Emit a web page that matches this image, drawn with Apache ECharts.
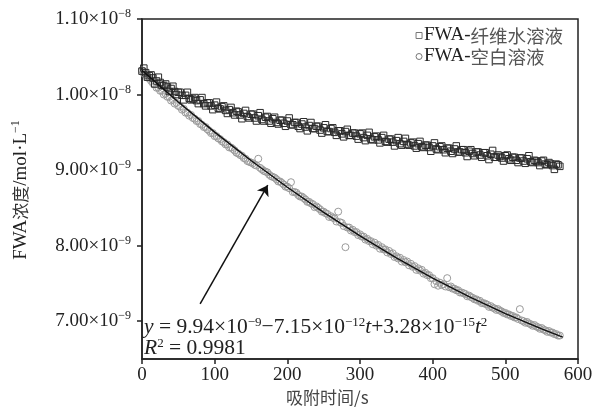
<!DOCTYPE html>
<html><head><meta charset="utf-8">
<script src="https://cdn.jsdelivr.net/npm/echarts@6/dist/echarts.min.js"></script>
<style>html,body{margin:0;padding:0;background:#fff}#c{width:596px;height:414px}</style>
</head><body><div id="c"></div>
<script>
// concentration values in units of 1e-9 mol/L; times in s
const timesA = [];
for (let i = 0; i <= 115; i++) timesA.push(i * 5);
const timesB = [];
for (let i = 0; i <= 114; i++) timesB.push(i * 5 + 2.5);
const fiberA = [10.31,10.29,10.25,10.22,10.18,10.16,10.12,10.10,10.08,10.04,10.03,9.99,9.99,9.95,9.94,9.92,9.93,9.88,9.89,9.85,
9.86,9.82,9.84,9.79,9.80,9.76,9.78,9.73,9.75,9.71,9.74,9.69,9.72,9.67,9.70,9.65,9.68,9.63,9.66,9.62,
9.65,9.60,9.63,9.58,9.61,9.57,9.59,9.55,9.58,9.53,9.56,9.51,9.55,9.50,9.52,9.48,9.51,9.46,9.49,9.45,
9.48,9.43,9.46,9.41,9.44,9.40,9.43,9.38,9.41,9.37,9.39,9.35,9.38,9.34,9.36,9.32,9.35,9.31,9.33,9.30,
9.32,9.28,9.31,9.27,9.29,9.25,9.28,9.24,9.27,9.23,9.25,9.22,9.24,9.20,9.23,9.19,9.21,9.17,9.20,9.16,
9.19,9.15,9.17,9.13,9.16,9.12,9.15,9.11,9.13,9.10,9.12,9.08,9.10,9.06,9.08,9.05];
const fiberB = [10.35,10.23,10.26,10.14,10.23,10.12,10.14,10.04,10.11,10.00,10.03,9.93,10.03,9.93,9.96,9.88,9.96,9.85,9.89,9.80,
9.90,9.81,9.85,9.75,9.83,9.73,9.77,9.68,9.79,9.69,9.74,9.65,9.76,9.65,9.71,9.62,9.70,9.61,9.66,9.58,
9.69,9.60,9.63,9.55,9.64,9.52,9.63,9.55,9.58,9.49,9.60,9.51,9.56,9.46,9.52,9.44,9.54,9.46,9.49,9.41,
9.49,9.39,9.50,9.40,9.45,9.36,9.46,9.37,9.41,9.32,9.43,9.33,9.42,9.33,9.37,9.29,9.38,9.30,9.33,9.25,
9.36,9.27,9.32,9.23,9.29,9.22,9.32,9.24,9.27,9.18,9.27,9.19,9.24,9.17,9.23,9.14,9.26,9.17,9.18,9.12,
9.20,9.13,9.17,9.10,9.16,9.09,9.19,9.10,9.12,9.06,9.13,9.07,9.08,9.01,9.07];
const blankA = [10.32,10.26,10.21,10.15,10.09,10.05,10.00,9.97,9.92,9.88,9.85,9.80,9.76,9.72,9.69,9.65,9.61,9.57,9.54,9.49,
9.45,9.42,9.38,9.34,9.30,9.28,9.23,9.20,9.16,9.12,9.10,9.07,9.15,9.01,8.98,8.94,8.91,8.88,8.85,8.81,
8.78,8.84,8.71,8.67,8.65,8.61,8.58,8.55,8.52,8.48,8.45,8.42,8.39,8.36,8.45,8.30,7.98,8.24,8.21,8.18,
8.15,8.12,8.09,8.06,8.04,8.01,7.98,7.95,7.93,7.90,7.86,7.84,7.81,7.79,7.76,7.73,7.70,7.68,7.64,7.61,
7.57,7.53,7.51,7.49,7.57,7.46,7.43,7.41,7.38,7.36,7.34,7.31,7.29,7.27,7.24,7.22,7.20,7.17,7.16,7.13,
7.11,7.09,7.07,7.05,7.16,7.00,6.99,6.96,6.95,6.92,6.91,6.88,6.87,6.85,6.83,6.81];
const blankB = [10.28,10.23,10.18,10.14,10.09,10.05,10.01,9.97,9.93,9.89,9.84,9.81,9.76,9.73,9.68,9.65,9.60,9.57,9.52,9.49,
9.45,9.41,9.37,9.34,9.30,9.26,9.22,9.19,9.15,9.11,9.09,9.06,9.03,8.99,8.97,8.92,8.90,8.85,8.83,8.78,
8.76,8.71,8.70,8.65,8.63,8.58,8.56,8.51,8.50,8.45,8.43,8.38,8.37,8.32,8.31,8.26,8.24,8.20,8.18,8.14,
8.12,8.08,8.06,8.02,8.00,7.96,7.95,7.91,7.89,7.85,7.83,7.79,7.78,7.74,7.72,7.68,7.67,7.63,7.61,7.57,
7.49,7.47,7.48,7.46,7.45,7.43,7.41,7.38,7.37,7.33,7.32,7.29,7.27,7.24,7.23,7.19,7.18,7.15,7.14,7.11,
7.09,7.07,7.05,7.03,7.01,6.98,6.97,6.94,6.93,6.90,6.89,6.86,6.85,6.83,6.81];
const fitT = [0,50,100,150,200,250,300,350,400,450,500,550,579];
const fitV = [10.32,9.901,9.503,9.127,8.773,8.44,8.129,7.839,7.571,7.325,7.101,6.898,6.79];
const arrowT = [80,173];
const arrowV = [7.23,8.80];
const yTicks = [7,8,9,10,11];

const serif = '"Liberation Serif","DejaVu Serif",serif';
const cjk = '"Noto Sans CJK SC","Noto Sans",sans-serif';
const chart = echarts.init(document.getElementById('c'));
function yfmt(v){ return v >= 10 ? '{n|'+(v/10).toFixed(2)+'×10}{s|−8}' : '{n|'+v.toFixed(2)+'×10}{s|−9}'; }
function pts(ts, vs){ return ts.map((t,i)=>[t,vs[i]]); }
const supRich = {
  n:{fontFamily:serif,fontSize:19,color:'#222',lineHeight:22},
  s:{fontFamily:serif,fontSize:12,color:'#222',verticalAlign:'top',lineHeight:14}
};
const fRich = {
  i:{fontFamily:serif,fontStyle:'italic',fontSize:21.5,fill:'#222',lineHeight:22},
  n:{fontFamily:serif,fontSize:21.5,fill:'#222',lineHeight:22},
  s:{fontFamily:serif,fontSize:13,fill:'#222',verticalAlign:'top',lineHeight:14}
};
chart.setOption({
  animation:false,
  backgroundColor:'#fff',
  grid:{left:142,right:18,top:19,bottom:55,show:true,borderColor:'#222',borderWidth:1.5,backgroundColor:'transparent'},
  legend:{
    right:28, top:21, orient:'vertical', itemWidth:6, itemHeight:6, itemGap:2,
    data:[{name:'FWA-纤维水溶液',icon:'rect'},{name:'FWA-空白溶液',icon:'circle'}],
    formatter:function(n){ const p=n.split('-'); return '{a|'+p[0]+'-}{b|'+p[1]+'}'; },
    textStyle:{padding:[0,0,0,-3],rich:{a:{fontFamily:serif,fontSize:19,color:'#222',lineHeight:21},b:{fontFamily:cjk,fontSize:18.5,color:'#555',lineHeight:21}}},
    itemStyle:{color:'#fff',borderColor:'#777',borderWidth:1}
  },
  xAxis:{type:'value',min:0,max:600,interval:100,
    axisLine:{onZero:false,lineStyle:{color:'#222',width:1.5}},
    axisTick:{inside:false,length:5,lineStyle:{color:'#222',width:1.5}},
    splitLine:{show:false},
    axisLabel:{fontFamily:serif,fontSize:19,color:'#222',margin:7}
  },
  yAxis:{type:'value',min:6.5,max:11,
    axisLine:{onZero:false,lineStyle:{color:'#222',width:1.5}},
    axisTick:{length:5,customValues:yTicks,lineStyle:{color:'#222',width:1.5}},
    splitLine:{show:false},
    axisLabel:{customValues:yTicks,formatter:yfmt,margin:11,rich:supRich}
  },
  series:[
    {name:'FWA-纤维水溶液',type:'scatter',symbol:'rect',symbolSize:6.5,
      data:pts(timesA,fiberA).concat(pts(timesB,fiberB)),
      itemStyle:{color:'rgba(0,0,0,0)',borderColor:'#2a2a2a',borderWidth:1,opacity:1},z:3},
    {name:'FWA-空白溶液',type:'scatter',symbol:'circle',symbolSize:7,
      data:pts(timesA,blankA).concat(pts(timesB,blankB)),
      itemStyle:{color:'rgba(0,0,0,0)',borderColor:'#9a9a9a',borderWidth:1,opacity:1},z:2},
    {type:'lines',coordinateSystem:'cartesian2d',polyline:true,silent:true,
      symbol:['none','arrow'],symbolSize:8,
      lineStyle:{color:'#111',width:1.5,opacity:1,curveness:0},
      data:[{coords:pts(fitT,fitV)}],z:4},
    {type:'lines',coordinateSystem:'cartesian2d',silent:true,
      symbol:['none','arrow'],symbolSize:10,
      lineStyle:{color:'#111',width:1.5,opacity:1},
      data:[{coords:pts(arrowT,arrowV)}],z:4}
  ],
  graphic:[
    {type:'text',left:144,top:316,z:10,style:{
      text:'{i|y}{n| = 9.94×10}{s|−9}{n|−7.15×10}{s|−12}{i|t}{n|+3.28×10}{s|−15}{i|t}{s|2}',rich:fRich}},
    {type:'text',left:144,top:337,z:10,style:{
      text:'{i|R}{s|2}{n| = 0.9981}',rich:fRich}},
    {type:'text',left:286,top:389,style:{text:'吸附时间/s',fontFamily:cjk,fontSize:17,fill:'#444'}},
    {type:'text',x:21,y:190,rotation:Math.PI/2,style:{
      text:'{a|FWA}{b|浓度}{a|/mol·L}{s|−1}',align:'center',verticalAlign:'middle',
      rich:{a:{fontFamily:serif,fontSize:19,fill:'#222',lineHeight:22},b:{fontFamily:cjk,fontSize:17,fill:'#333',lineHeight:22},s:{fontFamily:serif,fontSize:12,fill:'#222',verticalAlign:'top',lineHeight:14}}}}
  ]
});
</script></body></html>
